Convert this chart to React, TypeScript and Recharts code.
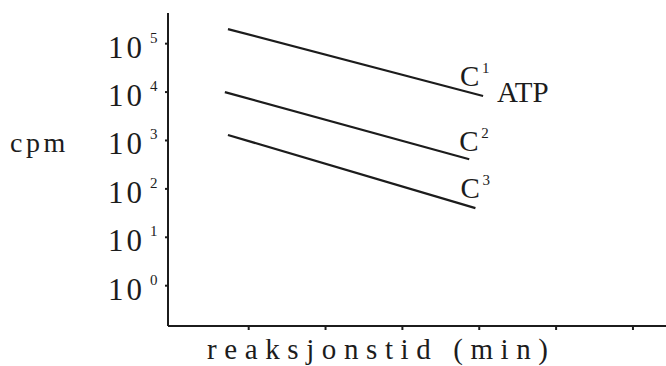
import React from 'react';
import { LineChart, Line, XAxis, YAxis } from 'recharts';

// Reaction time (arbitrary units, tick marks at 1..6)
const timeC1 = [0.73, 4.05];
const timeC2 = [0.69, 3.87];
const timeC3 = [0.73, 3.95];
// cpm values
const cpmC1 = [200000, 8300];
const cpmC2 = [10000, 410];
const cpmC3 = [1300, 40];

const seriesSup = ['1', '2', '3'];
const seriesExtra = ['ATP', '', ''];

const yTicks = [1, 10, 100, 1000, 10000, 100000];
const yExponents = ['0', '1', '2', '3', '4', '5'];
const xTicks = [1, 2, 3, 4, 5, 6];

const yLabel = 'cpm';
const xLabel = 'reaksjonstid (min)';

const toData = (xs: number[], ys: number[]) => xs.map((x, i) => ({ x, cpm: ys[i] }));
const dataC1 = toData(timeC1, cpmC1);
const dataC2 = toData(timeC2, cpmC2);
const dataC3 = toData(timeC3, cpmC3);

const INK = '#1c1c1c';
const SERIF = '"Liberation Serif", serif';

const labelOffsets = [
  { dx: -23, dy: -10 },
  { dx: -10, dy: -8 },
  { dx: -15, dy: -10 },
];

const makeEndLabel = (si: number, len: number) => (props: any) => {
  const { x, y, index } = props;
  if (index !== len - 1) return null;
  const cx = x + labelOffsets[si].dx;
  const cy = y + labelOffsets[si].dy;
  return (
    <g>
      <text x={cx} y={cy} fontFamily={SERIF} fontSize={29} fill={INK}>C</text>
      <text x={cx + 22} y={cy - 13} fontFamily={SERIF} fontSize={15} fill={INK}>{seriesSup[si]}</text>
      {seriesExtra[si] ? (
        <text x={cx + 37} y={cy + 16} fontFamily={SERIF} fontSize={29} fill={INK}>
          {seriesExtra[si]}
        </text>
      ) : null}
    </g>
  );
};

const YTick = (props: any) => {
  const { x, y, payload } = props;
  const i = yTicks.indexOf(payload.value);
  const exp = i >= 0 ? yExponents[i] : '';
  return (
    <g>
      <text x={x - 55} y={y + 14} fontFamily={SERIF} fontSize={31} letterSpacing={3} fill={INK}>10</text>
      <text x={x - 13} y={y - 1} fontFamily={SERIF} fontSize={15} fill={INK}>{exp}</text>
    </g>
  );
};

const EmptyTick = () => <g />;

const YLabel = () => (
  <text x={10} y={152} fontFamily={SERIF} fontSize={28} letterSpacing={3.5} fill={INK}>{yLabel}</text>
);

const XLabel = (props: any) => {
  const vb = props.viewBox || { x: 168, y: 326 };
  return (
    <text x={vb.x + 39} y={359} fontFamily={SERIF} fontSize={29} letterSpacing={7.6} fill={INK}>{xLabel}</text>
  );
};

export default function App() {
  return (
    <div style={{ position: 'absolute', left: 0, top: 0 }}>
      <LineChart width={666} height={366} margin={{ top: 13, right: 0, bottom: 0, left: 0 }}>
        <XAxis
          type="number"
          dataKey="x"
          domain={[-0.05, 6.43]}
          ticks={xTicks}
          allowDataOverflow
          stroke={INK}
          strokeWidth={2}
          tickSize={4}
          tick={EmptyTick}
          height={40}
          label={<XLabel />}
        />
        <YAxis
          type="number"
          dataKey="cpm"
          scale="log"
          domain={[0.147, 430000]}
          allowDataOverflow
          ticks={yTicks}
          stroke={INK}
          strokeWidth={2}
          tickSize={3}
          tick={YTick}
          width={168}
          label={<YLabel />}
        />
        <Line data={dataC1} dataKey="cpm" stroke={INK} strokeWidth={2.2} dot={false} isAnimationActive={false} label={makeEndLabel(0, dataC1.length)} />
        <Line data={dataC2} dataKey="cpm" stroke={INK} strokeWidth={2.2} dot={false} isAnimationActive={false} label={makeEndLabel(1, dataC2.length)} />
        <Line data={dataC3} dataKey="cpm" stroke={INK} strokeWidth={2.2} dot={false} isAnimationActive={false} label={makeEndLabel(2, dataC3.length)} />
      </LineChart>
    </div>
  );
}
